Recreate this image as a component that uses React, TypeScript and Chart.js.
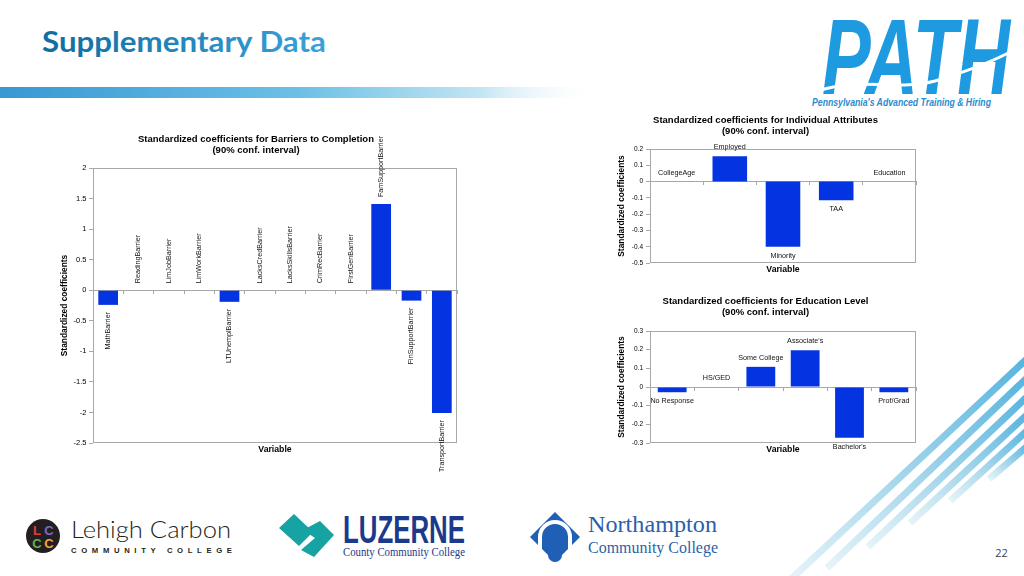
import React, { useEffect, useRef } from "react";
import { Chart, registerables } from "chart.js";

Chart.register(...registerables);

// ---------- DATA ----------
const barrierLabels = [
  "MathBarrier", "ReadingBarrier", "LimJobBarrier", "LimWorkBarrier", "LTUnemplBarrier", "LacksCredBarrier",
  "LacksSkillsBarrier", "CrimRecBarrier", "FirstGenBarrier", "FamSupportBarrier", "FinSupportBarrier", "TransportBarrier",
];
const barrierValues = [-0.24, 0, 0, 0, -0.19, 0, 0, 0, 0, 1.41, -0.17, -2.01];
const barrierTicks = [-2.5, -2, -1.5, -1, -0.5, 0, 0.5, 1, 1.5, 2];
const barrierTitle = ["Standardized coefficients for Barriers to Completion", "(90% conf. interval)"];

const attrLabels = ["CollegeAge", "Employed", "Minority", "TAA", "Education"];
const attrValues = [0, 0.155, -0.4, -0.115, 0];
const attrTicks = [-0.5, -0.4, -0.3, -0.2, -0.1, 0, 0.1, 0.2];
const attrTitle = ["Standardized coefficients for Individual Attributes", "(90% conf. interval)"];

const eduLabels = ["No Response", "HS/GED", "Some College", "Associate's", "Bachelor's", "Prof/Grad"];
const eduValues = [-0.028, 0, 0.108, 0.197, -0.272, -0.028];
const eduTicks = [-0.3, -0.2, -0.1, 0, 0.1, 0.2, 0.3];
const eduTitle = ["Standardized coefficients for Education Level", "(90% conf. interval)"];

const xAxisTitle = "Variable";
const yAxisTitle = "Standardized coefficients";

// ---------- STYLE ----------
const BLUE = "#0434e2";
const AXIS = "#a8a8a8";
const CF = "'Liberation Sans', Arial, Helvetica, sans-serif";

const framePlugin = {
  id: "frame",
  beforeDatasetsDraw(chart: any) {
    const { ctx, chartArea: a } = chart;
    ctx.save();
    ctx.strokeStyle = AXIS;
    ctx.lineWidth = 1;
    const l = Math.round(a.left) + 0.5;
    const t = Math.round(a.top) + 0.5;
    const r = Math.round(a.right) - 0.5;
    const b = Math.round(a.bottom) - 0.5;
    ctx.strokeRect(l, t, r - l, b - t);
    ctx.restore();
  },
};

const labelPlugin = {
  id: "catLabels",
  afterDatasetsDraw(chart: any, _args: any, opts: any) {
    const { ctx } = chart;
    const meta = chart.getDatasetMeta(0);
    const labels = chart.data.labels as string[];
    const vals = chart.data.datasets[0].data as number[];
    ctx.save();
    ctx.fillStyle = "#111";
    ctx.font = `${opts.size}px ${CF}`;
    ctx.textBaseline = "middle";
    meta.data.forEach((bar: any, i: number) => {
      const v = vals[i];
      const { x, y, base } = bar.getProps(["x", "y", "base"], true);
      const top = Math.min(y, base);
      const bottom = Math.max(y, base);
      if (opts.mode === "vertical") {
        ctx.save();
        if (v >= 0) {
          ctx.translate(x, top - opts.gap);
          ctx.rotate(-Math.PI / 2);
          ctx.textAlign = "left";
        } else {
          ctx.translate(x, bottom + opts.gap);
          ctx.rotate(-Math.PI / 2);
          ctx.textAlign = "right";
        }
        ctx.fillText(labels[i], 0, 0);
        ctx.restore();
      } else {
        ctx.textAlign = "center";
        ctx.fillText(labels[i], x, v >= 0 ? top - opts.gap : bottom + opts.gap);
      }
    });
    ctx.restore();
  },
};

type Spec = {
  labels: string[];
  values: number[];
  ticks: number[];
  title: string[];
  mode: "vertical" | "horizontal";
  box: { left: number; top: number; width: number; height: number };
  padRight: number;
  yWidth: number;
  xHeight: number;
  titlePad: [number, number];
  yTitlePadTop: number;
  xTitlePadBottom: number;
  tickSize: number;
  tickPad: number;
  labelGap: number;
};

function buildConfig(s: Spec): any {
  const yMin = s.ticks[0];
  const yMax = s.ticks[s.ticks.length - 1];
  const step = +(s.ticks[1] - s.ticks[0]).toFixed(4);
  return {
    type: "bar",
    data: {
      labels: s.labels,
      datasets: [
        {
          data: s.values,
          backgroundColor: BLUE,
          borderWidth: 0,
          barPercentage: 0.65,
          categoryPercentage: 1,
          xAxisID: "x",
          yAxisID: "y",
        },
      ],
    },
    options: {
      responsive: false,
      maintainAspectRatio: false,
      animation: false,
      devicePixelRatio: 1,
      events: [],
      layout: { padding: { left: 0, right: s.padRight, top: 0, bottom: 0 } },
      plugins: {
        legend: { display: false },
        tooltip: { enabled: false },
        title: {
          display: true,
          text: s.title,
          color: "#000",
          font: { family: CF, size: 9.5, weight: "bold", lineHeight: 11 / 9.5 },
          padding: { top: s.titlePad[0], bottom: s.titlePad[1] },
        },
        catLabels: { mode: s.mode, gap: s.labelGap, size: 7.2 },
      },
      scales: {
        x: {
          type: "category",
          position: "bottom",
          offset: true,
          ticks: { display: false },
          grid: { display: false },
          border: { display: false },
          title: {
            display: true,
            text: xAxisTitle,
            color: "#000",
            font: { family: CF, size: 8.7, weight: "bold", lineHeight: 1.2 },
            padding: { top: 0, bottom: s.xTitlePadBottom },
          },
          afterFit: (sc: any) => {
            sc.height = s.xHeight;
          },
        },
        xz: {
          type: "category",
          axis: "x",
          position: { y: 0 },
          offset: true,
          ticks: { display: false },
          grid: { display: true, offset: true, drawOnChartArea: false, drawTicks: true, tickLength: 3, color: AXIS },
          border: { display: true, color: AXIS },
        },
        y: {
          type: "linear",
          position: "left",
          min: yMin,
          max: yMax,
          ticks: {
            stepSize: step,
            autoSkip: false,
            color: "#000",
            font: { family: CF, size: s.tickSize },
            padding: s.tickPad,
            callback: (v: any) => String(Math.round(Number(v) * 1000) / 1000),
          },
          grid: { display: true, drawOnChartArea: false, drawTicks: true, tickLength: 4, color: AXIS },
          border: { display: false },
          title: {
            display: true,
            text: yAxisTitle,
            color: "#000",
            font: { family: CF, size: 8.4, weight: "bold", lineHeight: 1.2 },
            padding: { top: s.yTitlePadTop, bottom: 0 },
          },
          afterFit: (sc: any) => {
            sc.width = s.yWidth;
          },
        },
      },
    },
    plugins: [framePlugin, labelPlugin],
  };
}

function BarChart({ spec }: { spec: Spec }) {
  const ref = useRef<HTMLCanvasElement>(null);
  useEffect(() => {
    const chart = new Chart(ref.current as HTMLCanvasElement, buildConfig(spec));
    return () => chart.destroy();
  }, []);
  const b = spec.box;
  return (
    <canvas
      ref={ref}
      width={b.width}
      height={b.height}
      style={{ position: "absolute", left: b.left, top: b.top, width: b.width, height: b.height }}
    />
  );
}

const leftSpec: Spec = {
  labels: barrierLabels,
  values: barrierValues,
  ticks: barrierTicks,
  title: barrierTitle,
  mode: "vertical",
  box: { left: 55, top: 128, width: 405, height: 345 },
  padRight: 3,
  yWidth: 38,
  xHeight: 30,
  titlePad: [5.5, 12.5],
  yTitlePadTop: 5,
  xTitlePadBottom: 17.8,
  tickSize: 7.5,
  tickPad: 2.5,
  labelGap: 7,
};

const attrSpec: Spec = {
  labels: attrLabels,
  values: attrValues,
  ticks: attrTicks,
  title: attrTitle,
  mode: "horizontal",
  box: { left: 615, top: 110, width: 304, height: 172 },
  padRight: 3,
  yWidth: 35,
  xHeight: 19,
  titlePad: [4.5, 12.5],
  yTitlePadTop: 2,
  xTitlePadBottom: 6.8,
  tickSize: 6.5,
  tickPad: 3,
  labelGap: 9,
};

const eduSpec: Spec = {
  labels: eduLabels,
  values: eduValues,
  ticks: eduTicks,
  title: eduTitle,
  mode: "horizontal",
  box: { left: 615, top: 290, width: 304, height: 180 },
  padRight: 3,
  yWidth: 35,
  xHeight: 27,
  titlePad: [5.5, 13.5],
  yTitlePadTop: 2,
  xTitlePadBottom: 14.8,
  tickSize: 6.5,
  tickPad: 3,
  labelGap: 9,
};

// decorative stripes (bottom-right)
const stripes = [
  [790, 580, 1030, 356],
  [827, 568, 1030, 375],
  [868, 547, 1030, 394],
  [910, 523, 1030, 412],
  [950, 501, 1030, 428],
  [989, 479, 1030, 444],
];

function Decor() {
  return (
    <svg
      width={1024}
      height={576}
      viewBox="0 0 1024 576"
      style={{ position: "absolute", left: 0, top: 0 }}
    >
      <defs>
        <linearGradient id="titleGrad" x1="0" y1="0" x2="1" y2="0">
          <stop offset="0" stopColor="#0f6c9e" />
          <stop offset="1" stopColor="#3aa2da" />
        </linearGradient>
        <linearGradient id="barGrad" x1="0" y1="0" x2="1" y2="0">
          <stop offset="0" stopColor="#3898d3" />
          <stop offset="0.5" stopColor="#6cc0e6" />
          <stop offset="0.8" stopColor="#c2e5f3" />
          <stop offset="1" stopColor="#ffffff" stopOpacity="0" />
        </linearGradient>
        <linearGradient id="stripeGrad" x1="0" y1="1" x2="1" y2="0">
          <stop offset="0" stopColor="#e6f4f8" />
          <stop offset="0.5" stopColor="#9fd3ea" />
          <stop offset="1" stopColor="#55b3de" />
        </linearGradient>
      </defs>

      {/* slide title */}
      <text
        x={42}
        y={52}
        fontFamily="Lato, 'Open Sans', sans-serif"
        fontWeight={700}
        fontSize={28}
        textLength={284}
        lengthAdjust="spacingAndGlyphs"
        fill="url(#titleGrad)"
      >
        Supplementary Data
      </text>
      <rect x={0} y={87} width={600} height={11} fill="url(#barGrad)" />

      {/* PATH logo */}
      <text
        x={822}
        y={94}
        fontFamily="'Liberation Sans', Arial, sans-serif"
        fontWeight={700}
        fontStyle="italic"
        fontSize={108}
        textLength={188}
        lengthAdjust="spacingAndGlyphs"
        fill="#1e9be0"
      >
        PATH
      </text>
      <path d="M818,91 C858,77 898,91 935,81 C965,72 990,63 1014,50" stroke="#ffffff" strokeWidth={3} fill="none" />
      <text
        x={812}
        y={106}
        fontFamily="'Liberation Sans', Arial, sans-serif"
        fontWeight={700}
        fontStyle="italic"
        fontSize={11}
        textLength={179}
        lengthAdjust="spacingAndGlyphs"
        fill="#2a8bd0"
      >
        Pennsylvania's Advanced Training &amp; Hiring
      </text>

      {/* stripes */}
      {stripes.map((s, i) => (
        <line
          key={i}
          x1={s[0]}
          y1={s[1]}
          x2={s[2]}
          y2={s[3]}
          stroke="url(#stripeGrad)"
          strokeWidth={7}
        />
      ))}

      {/* LCCC logo */}
      <circle cx={43} cy={536} r={17} fill="#231f20" />
      <g fontFamily="'Liberation Sans', Arial, sans-serif" fontWeight={700} fontSize={13} textAnchor="middle">
        <text x={37} y={535} fill="#e23b3f">L</text>
        <text x={49} y={535} fill="#7b6bc0">C</text>
        <text x={37} y={548} fill="#62b548">C</text>
        <text x={49} y={548} fill="#f2a541">C</text>
      </g>
      <text
        x={71}
        y={538}
        fontFamily="Lato, 'Liberation Sans', sans-serif"
        fontWeight={300}
        fontSize={24}
        textLength={160}
        lengthAdjust="spacingAndGlyphs"
        fill="#231f20"
      >
        Lehigh Carbon
      </text>
      <text
        x={71}
        y={552.5}
        fontFamily="'Liberation Sans', Arial, sans-serif"
        fontWeight={700}
        fontSize={7.7}
        textLength={161}
        lengthAdjust="spacing"
        fill="#231f20"
      >
        COMMUNITY COLLEGE
      </text>

      {/* Luzerne logo */}
      <polygon points="279,528 294,514 313,532 299,546" fill="#17a2a4" />
      <polygon points="303,530 320,521 334,535 314,557 301,550 315,538" fill="#17a2a4" />
      <text
        x={343}
        y={543}
        fontFamily="'Liberation Sans', Arial, sans-serif"
        fontWeight={700}
        fontSize={39}
        textLength={122}
        lengthAdjust="spacingAndGlyphs"
        fill="#1b3a8c"
      >
        LUZERNE
      </text>
      <text
        x={343}
        y={556}
        fontFamily="'Liberation Serif', 'Times New Roman', serif"
        fontSize={12}
        textLength={122}
        lengthAdjust="spacingAndGlyphs"
        fill="#1b3a8c"
      >
        County Community College
      </text>

      {/* Northampton logo */}
      <polygon points="555,512 580,537 555,562 530,537" fill="#1f5fb5" />
      <path d="M540,552 L540,537 A15,15 0 0 1 570,537 L570,552" stroke="#ffffff" strokeWidth={4} fill="none" />
      <rect x={548} y={527} width={14} height={35} rx={7} fill="#1f5fb5" />
      <text
        x={588}
        y={532}
        fontFamily="'Liberation Serif', 'Times New Roman', serif"
        fontSize={24}
        textLength={129}
        lengthAdjust="spacingAndGlyphs"
        fill="#2d5fa8"
      >
        Northampton
      </text>
      <text
        x={588}
        y={553}
        fontFamily="'Liberation Serif', 'Times New Roman', serif"
        fontSize={16}
        textLength={130}
        lengthAdjust="spacingAndGlyphs"
        fill="#2d5fa8"
      >
        Community College
      </text>

      {/* page number */}
      <text
        x={1001.5}
        y={557}
        fontFamily="'Open Sans', sans-serif"
        fontSize={11}
        textAnchor="middle"
        fill="#404040"
      >
        22
      </text>
    </svg>
  );
}

export default function App() {
  return (
    <div
      style={{
        position: "absolute",
        left: 0,
        top: 0,
        width: 1024,
        height: 576,
        overflow: "hidden",
        background: "#ffffff",
      }}
    >
      <Decor />
      <BarChart spec={leftSpec} />
      <BarChart spec={attrSpec} />
      <BarChart spec={eduSpec} />
    </div>
  );
}
